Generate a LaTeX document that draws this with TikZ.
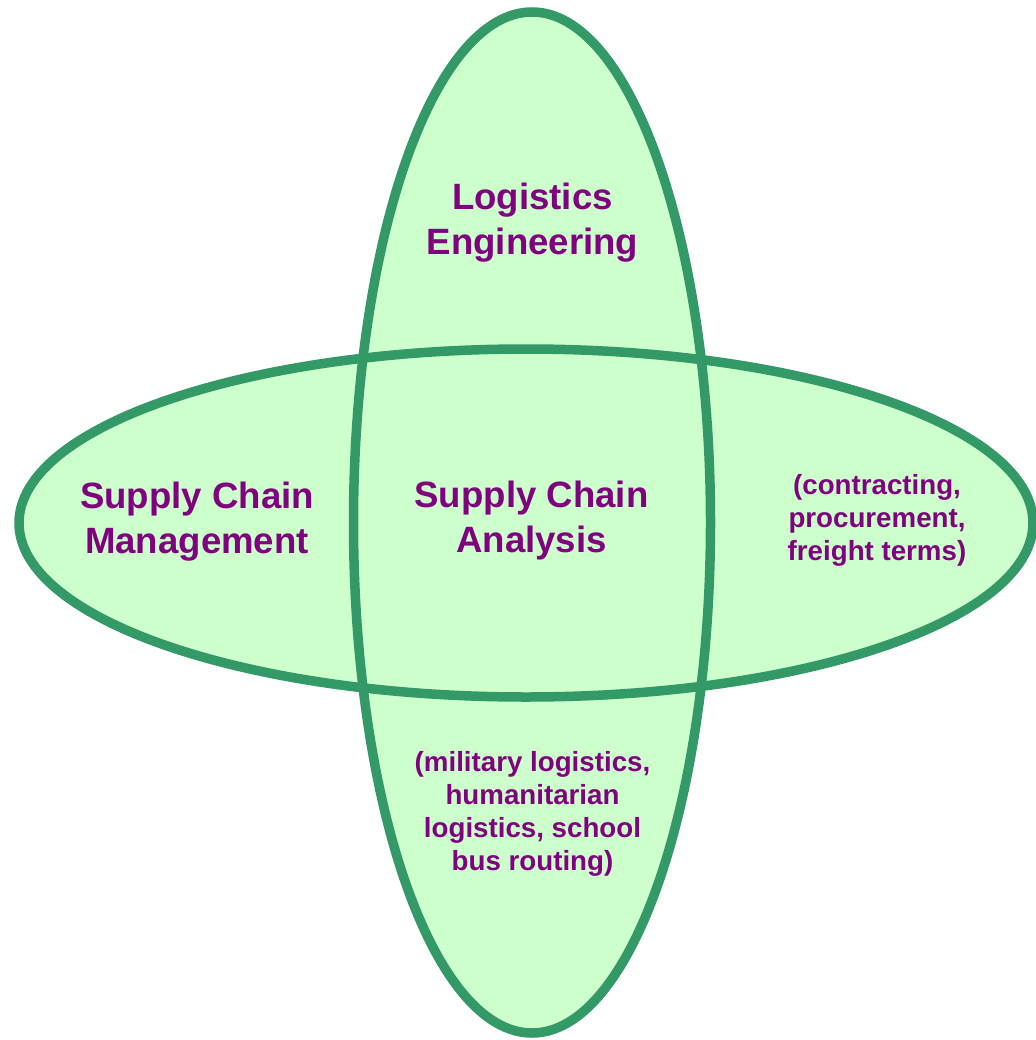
\documentclass[tikz,border=0pt]{standalone}
\usepackage{fontspec}
\setmainfont{Liberation Sans}
\begin{document}
\definecolor{ringgreen}{RGB}{51,153,102}
\definecolor{paleleaf}{RGB}{204,255,204}
\definecolor{plum}{RGB}{128,0,128}
% the base anchor of a multi-line label sits on its last line
\begin{tikzpicture}[x=1pt,y=-1pt,
  bigtext/.style={font=\bfseries\fontsize{36.6}{45}\selectfont, text=plum, align=center, inner sep=0pt, anchor=base},
  smalltext/.style={font=\bfseries\fontsize{27.7}{33}\selectfont, text=plum, align=center, inner sep=0pt, anchor=base},
  ring/.style={draw=ringgreen, line width=9.5pt}]
\useasboundingbox (0,0) rectangle (1035,1040);
% fills first, so both outlines stay visible in the overlap
\fill[paleleaf] (532,522.5) ellipse [x radius=178.5, y radius=510.5];
\fill[paleleaf] (526,523) ellipse [x radius=507, y radius=174];
\draw[ring] (532,522.5) ellipse [x radius=178.5, y radius=510.5];
\draw[ring] (526,523) ellipse [x radius=507, y radius=174];
% labels
\node[bigtext] (le) at (532.5,255) {Logistics\\Engineering};
\node[bigtext] (scm) at (197,553) {Supply Chain\\Management};
\node[bigtext] (sca) at (531.5,552) {Supply Chain\\Analysis};
\node[smalltext] (cp) at (877,560) {(contracting,\\procurement,\\freight terms)};
\node[smalltext] (ml) at (532.5,870) {(military logistics,\\humanitarian\\logistics, school\\bus routing)};
\end{tikzpicture}
\end{document}
